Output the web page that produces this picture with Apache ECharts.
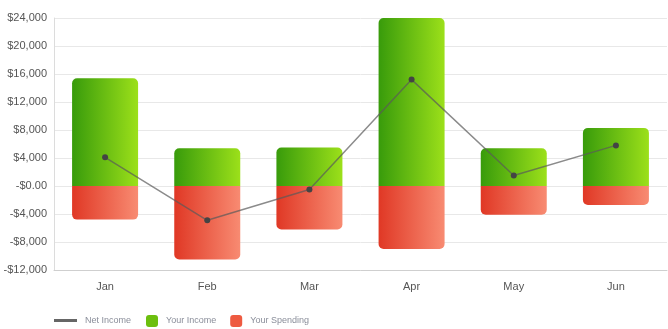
<!DOCTYPE html>
<html><head><meta charset="utf-8">
<script src="https://cdn.jsdelivr.net/npm/echarts@6/dist/echarts.min.js"></script>
<style>html,body{margin:0;padding:0;background:#fff}#c{width:668px;height:329px}</style>
</head><body><div id="c"></div>
<script>
const categories = ['Jan','Feb','Mar','Apr','May','Jun'];
const incomeValues = [15400, 5400, 5500, 24000, 5400, 8300];
const spendingValues = [-4800, -10500, -6200, -9000, -4100, -2700];
const netValues = [4100, -4900, -500, 15200, 1500, 5800];
const yMin = -12000, yMax = 24000, yStep = 4000;

function fmt(v){
  if (v === 0) return '-$0.00';
  const s = Math.abs(v).toLocaleString('en-US');
  return (v < 0 ? '-$' : '$') + s;
}
const greenGrad = new echarts.graphic.LinearGradient(0,0,1,0,[{offset:0,color:'#389b0b'},{offset:1,color:'#9ce01a'}]);
const redGrad = new echarts.graphic.LinearGradient(0,0,1,0,[{offset:0,color:'#e03825'},{offset:1,color:'#f88b72'}]);
const font = 'Liberation Sans, Arial, sans-serif';
const legendText = {color:'#8a8e9a',fontSize:9,fontFamily:font,padding:[0,0,0,3]};
const chart = echarts.init(document.getElementById('c'));
chart.setOption({
  animation:false,
  textStyle:{fontFamily:font},
  grid:{left:54,right:1,top:18,bottom:59,containLabel:false},
  legend:[
    {data:[{name:'Net Income',itemStyle:{color:'#666'}}],left:54,top:316,padding:0,itemWidth:23,itemHeight:3,icon:'rect',
     textStyle:legendText},
    {data:[{name:'Your Income',itemStyle:{color:'#6cbf0e'}},{name:'Your Spending',itemStyle:{color:'#ee5a40'}}],
     left:146,top:315,padding:0,itemWidth:12,itemHeight:12,icon:'roundRect',itemGap:14,
     textStyle:legendText}
  ],
  xAxis:{type:'category',data:categories,
    axisLine:{onZero:false,lineStyle:{color:'#cfcfcf'}},axisTick:{show:false},
    axisLabel:{color:'#555',fontSize:11,margin:11}},
  yAxis:{type:'value',min:yMin,max:yMax,interval:yStep,
    axisLine:{show:true,lineStyle:{color:'#dcdcdc'}},axisTick:{show:false},
    splitLine:{lineStyle:{color:'#e8e8e8'}},
    axisLabel:{color:'#555',fontSize:11,margin:7,formatter:fmt}},
  series:[
    {name:'Your Income',type:'bar',stack:'a',data:incomeValues,barWidth:66,
     itemStyle:{color:greenGrad,borderRadius:[5,5,0,0]}},
    {name:'Your Spending',type:'bar',stack:'a',data:spendingValues,barWidth:66,
     itemStyle:{color:redGrad,borderRadius:[0,0,5,5]}},
    {name:'Net Income',type:'line',data:netValues,symbol:'circle',symbolSize:6,z:5,
     lineStyle:{color:'rgba(90,90,90,0.7)',width:1.5},
     itemStyle:{color:'#444'}}
  ]
});
</script></body></html>
